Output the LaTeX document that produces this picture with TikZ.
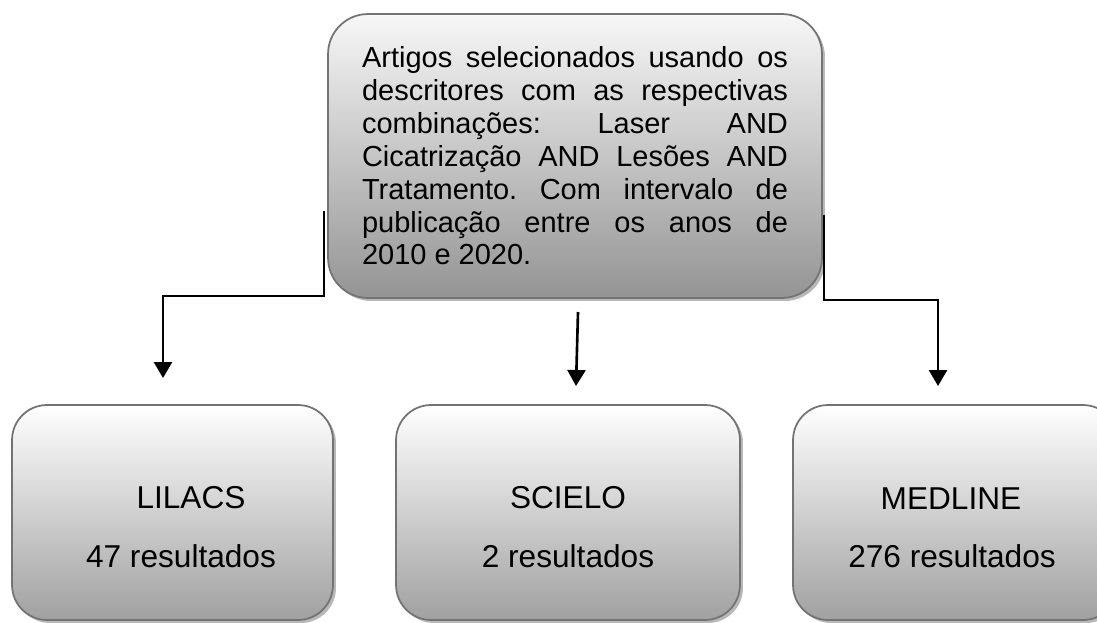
\documentclass[tikz,border=0pt]{standalone}
\usepackage{fontspec}
\setmainfont{Liberation Sans}
\usetikzlibrary{arrows.meta,shadows}

\begin{document}
\begin{tikzpicture}[x=0.02cm, y=-0.02cm]
	\tikzstyle{every node}=[font=\fontsize{18}{21}\selectfont, inner sep=0pt]
	\tikzstyle{querybox}=[draw=black!55, line width=1pt, rounded corners=0.8cm, top color=white!97!black, bottom color=black!42, drop shadow={shadow xshift=0.06cm, shadow yshift=-0.06cm, fill=black!28, opacity=1}]
	\tikzstyle{basebox}=[draw=black!55, line width=1pt, rounded corners=0.7cm, top color=white, bottom color=black!37, drop shadow={shadow xshift=0.06cm, shadow yshift=-0.06cm, fill=black!28, opacity=1}]
	\tikzstyle{link}=[line width=1.5pt, -{Triangle[width=0.36cm, length=0.32cm]}]

	\clip (0,0) rectangle (1097,622);

	\node[querybox, minimum width=9.88cm, minimum height=5.68cm, text width=8.52cm, align=justify, font=\fontsize{16.5}{18.7}\selectfont] (query) at (575,156)
		{\frenchspacing\hyphenpenalty=10000 Artigos selecionados usando os\linebreak descritores com as respectivas\linebreak combinações: Laser AND\linebreak Cicatrização AND Lesões AND\linebreak Tratamento. Com intervalo de\linebreak publicação entre os anos de\linebreak 2010 e 2020.};

	\node[basebox, minimum width=6.42cm, minimum height=4.3cm] (lilacs) at (172.5,512.5) {};
	\node[basebox, minimum width=6.88cm, minimum height=4.3cm] (scielo) at (568,512.5) {};
	\node[basebox, minimum width=6.5cm, minimum height=4.3cm] (medline) at (955.5,512.5) {};

	\node[anchor=base] (lilacsname) at (191,508) {LILACS};
	\node[anchor=base] (lilacscount) at (181,567) {47 resultados};
	\node[anchor=base] (scieloname) at (568,508) {SCIELO};
	\node[anchor=base] (scielocount) at (568,567) {2 resultados};
	\node[anchor=base] (medlinename) at (951,509) {MEDLINE};
	\node[anchor=base] (medlinecount) at (952,567) {276 resultados};

	\coordinate (lstart) at (324,211);
	\coordinate (ltip) at (163,378);
	\coordinate (mstart) at (578,312);
	\coordinate (mtip) at (576,386);
	\coordinate (rstart) at (824,215);
	\coordinate (rtip) at (938,386);

	\draw[link] (lstart) -- ++(0,85) -| (ltip);
	\draw[link] (mstart) -- (mtip);
	\draw[link] (rstart) -- ++(0,85) -| (rtip);
\end{tikzpicture}
\end{document}
